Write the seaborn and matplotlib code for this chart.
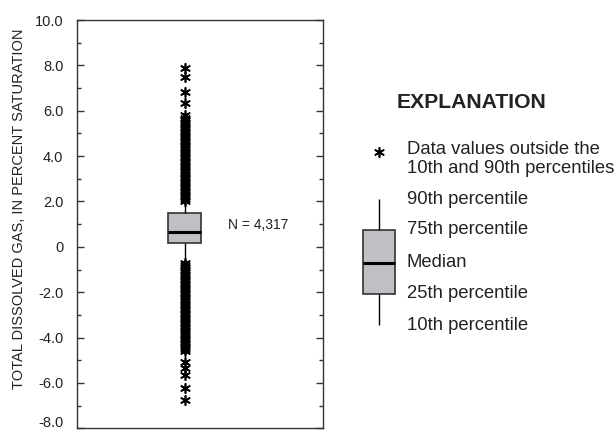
import matplotlib
matplotlib.use("Agg")
import matplotlib.pyplot as plt
import matplotlib.transforms as mtransforms
from matplotlib.ticker import FixedLocator, MultipleLocator
import seaborn as sns

# ---------------- data ----------------
n_obs = 4317
# 10th, 25th, median, 75th, 90th percentiles
box_summary = [-0.62, 0.15, 0.66, 1.47, 1.92]
outliers_high = [2.0, 2.1, 2.2, 2.3, 2.4, 2.5, 2.6, 2.7, 2.8, 2.9, 3.0, 3.1, 3.2,
                 3.3, 3.4, 3.5, 3.6, 3.7, 3.8, 3.9, 4.0, 4.1, 4.2, 4.3, 4.4, 4.5,
                 4.6, 4.7, 4.8, 4.9, 5.0, 5.1, 5.2, 5.3, 5.4, 5.5, 5.6, 5.7, 5.8,
                 6.34, 6.82, 7.48, 7.88]
outliers_low = [-0.7, -0.8, -0.9, -1.0, -1.1, -1.2, -1.3, -1.4, -1.5, -1.6, -1.7,
                -1.8, -1.9, -2.0, -2.1, -2.2, -2.3, -2.4, -2.5, -2.6, -2.7, -2.8,
                -2.9, -3.0, -3.1, -3.2, -3.3, -3.4, -3.5, -3.6, -3.7, -3.8, -3.9,
                -4.0, -4.1, -4.2, -4.3, -4.4, -4.5, -4.6,
                -5.09, -5.35, -5.66, -6.23, -6.76]
ytick_values = [-8, -6, -4, -2, 0, 2, 4, 6, 8, 10]
ytick_labels = ["-8.0", "-6.0", "-4.0", "-2.0", "0", "2.0", "4.0", "6.0", "8.0", "10.0"]
ylabel = "TOTAL DISSOLVED GAS, IN PERCENT SATURATION"

# explanation (legend) glyph sample, in legend-panel units
legend_sample = [10, 41, 72.3, 105, 135.7]      # 10th, 25th, median, 75th, 90th
legend_star = [183.3]
legend_labels = ["10th percentile", "25th percentile", "Median",
                 "75th percentile", "90th percentile"]
star_lines = ["Data values outside the", "10th and 90th percentiles"]
star_line_pos = [185.3, 166.7]
legend_title = "EXPLANATION"

# ---------------- style ----------------
sns.set_style("ticks")
plt.rcParams["font.family"] = ["Liberation Sans", "DejaVu Sans"]

box_fill = "#BFC0C4"
edge = "#333333"
box_kws = dict(whis=(0, 100), width=0.8, showfliers=False, showcaps=False,
               color=box_fill, saturation=1, linecolor=edge, linewidth=1.2,
               medianprops=dict(color="black", linewidth=2.2),
               whiskerprops=dict(color="black", linewidth=1.0))
star_kws = dict(jitter=False, color="black", marker=(6, 2, 0), size=6.8,
                linewidth=1.2)

fig = plt.figure(figsize=(6.16, 4.32), dpi=100)

# ---------------- main panel ----------------
ax = fig.add_axes([0.1255, 0.0086, 0.3984, 0.9451])
sns.boxplot(y=box_summary, ax=ax, **box_kws)
sns.stripplot(y=outliers_high + outliers_low, ax=ax, **star_kws)

ax.set_xlim(-2.647, 3.412)
ax.set_ylim(-8, 10)
ax.set_xticks([])
ax.set_xlabel("")
ax.yaxis.set_major_locator(FixedLocator(ytick_values))
ax.set_yticklabels(ytick_labels)
ax.yaxis.set_minor_locator(MultipleLocator(1))
ax.tick_params(axis="y", which="both", direction="in", left=True, right=True,
               color=edge, width=1.0)
ax.tick_params(axis="y", which="major", length=5, labelsize=10.5, pad=10,
               labelcolor="#222222")
ax.tick_params(axis="y", which="minor", length=2.6)
# the lowest label sits slightly raised so it stays inside the figure
low_lab = ax.get_yticklabels()[0]
low_lab.set_transform(low_lab.get_transform() +
                      mtransforms.ScaledTranslation(0, 5 / 72, fig.dpi_scale_trans))
for sp in ax.spines.values():
    sp.set_color(edge)
    sp.set_linewidth(1.0)
ax.set_ylabel(ylabel, fontsize=10.5, color="#222222")
ax.yaxis.set_label_coords(-0.21, 0.537)
ax.text(1.07, 0.96, f"N = {n_obs:,}", fontsize=10, ha="left", va="center",
        color="#222222")

# ---------------- explanation panel ----------------
ax_leg = fig.add_axes([0.5836, 1 - 335 / 432, 40 / 616, 195 / 432])
sns.boxplot(y=legend_sample, ax=ax_leg, **box_kws)
sns.stripplot(y=legend_star, ax=ax_leg, **star_kws)
ax_leg.set_xlim(-0.5, 0.5)
ax_leg.set_ylim(0, 195)
ax_leg.axis("off")

tr = mtransforms.blended_transform_factory(ax_leg.transAxes, ax_leg.transData)
for val, lab in zip(legend_sample, legend_labels):
    ax_leg.text(1.1875, val, lab, transform=tr, fontsize=13.3, ha="left",
                va="center", color="#222222")
for val, lab in zip(star_line_pos, star_lines):
    ax_leg.text(1.1875, val, lab, transform=tr, fontsize=13.3, ha="left",
                va="center", color="#222222")

fig.text(397 / 616, 1 - 103 / 432, legend_title, fontsize=15.2, fontweight="bold",
         ha="left", va="center", color="#222222")

fig.savefig("out.png", dpi=100)
